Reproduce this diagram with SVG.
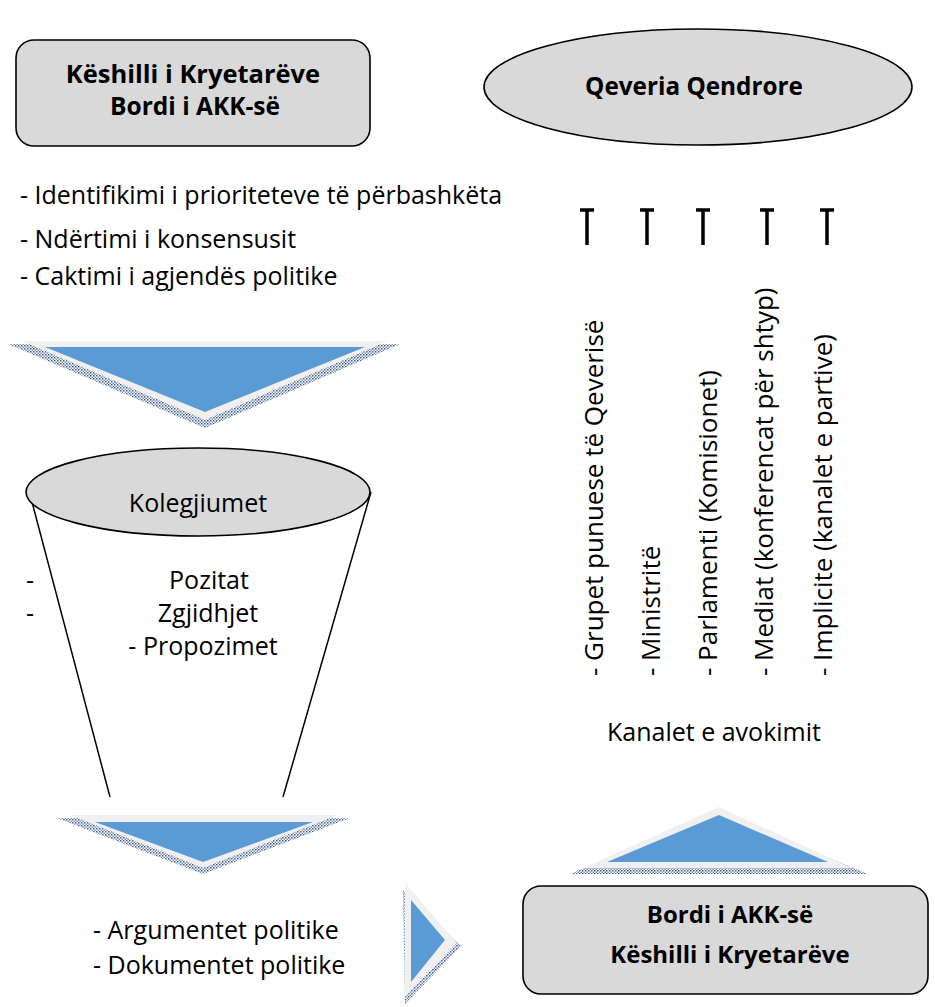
<svg xmlns="http://www.w3.org/2000/svg" width="935" height="1007" viewBox="0 0 935 1007">
<style>
.box{fill:#d9d9d9;stroke:#000;stroke-width:1.6}
.t{font-family:"Open Sans","Liberation Sans",sans-serif;font-size:25px;fill:#000}
.v{font-size:26px}
.b{font-family:"Open Sans","Liberation Sans",sans-serif;font-weight:bold;fill:#000;text-anchor:middle}
.m{text-anchor:middle}
.ln{stroke:#000;stroke-width:1.5;fill:none}
.blue{fill:#5b9bd5}
.rim{fill:#f0f0f0}
.sh{fill:url(#hatch)}
.tee{stroke:#000;stroke-width:3.5;fill:none}
</style>
<defs>
<pattern id="hatch" width="3" height="3" patternUnits="userSpaceOnUse">
<rect width="3" height="3" fill="#ffffff"/>
<rect width="1.5" height="1.5" fill="#3c5a8c"/>
<rect x="1.5" y="1.5" width="1.5" height="1.5" fill="#7d93b6"/>
</pattern>
</defs>
<g id="node-kryetareve-top">
<rect class="box" x="16" y="40" width="354" height="106" rx="18"/>
<text class="b" x="193" y="83" font-size="25.5">Këshilli i Kryetarëve</text>
<text class="b" x="195" y="115" font-size="24.5">Bordi i AKK-së</text>
</g>
<g id="node-qeveria">
<ellipse class="box" cx="698" cy="87" rx="214" ry="58"/>
<text class="b" x="694" y="95" font-size="24.3">Qeveria Qendrore</text>
</g>
<g id="node-list-top">
<text class="t" x="20" y="204">- Identifikimi i prioriteteve të përbashkëta</text>
<text class="t" x="20" y="248" font-size="25.8">- Ndërtimi i konsensusit</text>
<text class="t" x="20" y="285" font-size="25.8">- Caktimi i agjendës politike</text>
</g>
<g id="arrow-down-1">
<polygon class="sh" points="8,344 400,344 205,428"/>
<polygon class="rim" points="22,341 388,341 205,420"/>
<polygon class="blue" points="45,347 365,347 205,412"/>
</g>
<g id="node-kolegjiumet">
<line class="ln" x1="32" y1="502" x2="110" y2="797"/>
<line class="ln" x1="371" y1="492" x2="283" y2="797"/>
<ellipse class="box" cx="198" cy="492" rx="172" ry="44"/>
<text class="t m" x="198" y="512">Kolegjiumet</text>
<text class="t" x="26" y="589">-</text>
<text class="t" x="26" y="622">-</text>
<text class="t m" x="209" y="589">Pozitat</text>
<text class="t m" x="208" y="622">Zgjidhjet</text>
<text class="t m" x="203" y="655">- Propozimet</text>
</g>
<g id="arrow-down-2">
<polygon class="sh" points="57,818 350,818 203,874"/>
<polygon class="rim" points="70,815 338,815 203,868"/>
<polygon class="blue" points="95,822 313,822 203,862"/>
</g>
<g id="node-argumentet">
<text class="t" x="93" y="939">- Argumentet politike</text>
<text class="t" x="93" y="974">- Dokumentet politike</text>
</g>
<g id="arrow-right">
<polygon class="sh" points="403,890 461,946 405,1004"/>
<polygon class="rim" points="405,883 457,943 405,997"/>
<polygon class="blue" points="411,900 445,940 411,982"/>
</g>
<g id="node-kryetareve-bottom">
<rect class="box" x="523" y="886" width="405" height="108" rx="18"/>
<text class="b" x="730" y="923" font-size="24">Bordi i AKK-së</text>
<text class="b" x="730" y="963" font-size="24">Këshilli i Kryetarëve</text>
</g>
<g id="arrow-up">
<polygon class="sh" points="570,874 868,874 719,812"/>
<polygon class="rim" points="583,868 852,868 719,807"/>
<polygon class="blue" points="607,862 828,862 719,815"/>
</g>
<g id="node-kanalet">
<text class="t v" transform="translate(603,676) rotate(-90)">- Grupet punuese të  Qeverisë</text>
<text class="t v" transform="translate(660,676) rotate(-90)">- Ministritë</text>
<text class="t v" transform="translate(717,676) rotate(-90)">- Parlamenti (Komisionet)</text>
<text class="t v" transform="translate(773,676) rotate(-90)">- Mediat (konferencat për shtyp)</text>
<text class="t v" transform="translate(832,676) rotate(-90)">- Implicite (kanalet e partive)</text>
<text class="t m" x="714" y="741">Kanalet e avokimit</text>
</g>
<g id="connectors">
<path class="tee" d="M587,245 V210 M580,210 H594"/>
<path class="tee" d="M647,245 V210 M640,210 H654"/>
<path class="tee" d="M703,245 V210 M696,210 H710"/>
<path class="tee" d="M767,245 V210 M760,210 H774"/>
<path class="tee" d="M827,245 V210 M820,210 H834"/>
</g>
</svg>
